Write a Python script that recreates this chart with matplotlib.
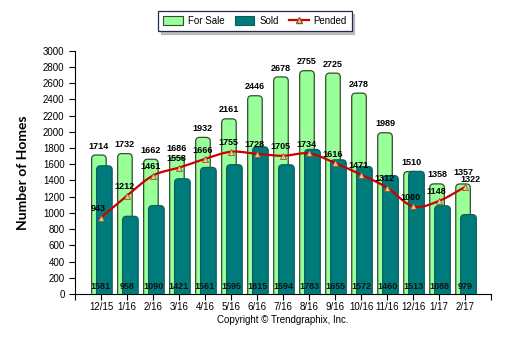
import numpy as np
import matplotlib
matplotlib.use('Agg')
import matplotlib.pyplot as plt
from matplotlib.patches import FancyBboxPatch, Patch
from matplotlib.lines import Line2D

plt.rcParams.update({'font.family': ['Liberation Sans', 'DejaVu Sans'], 'font.size': 7})

months = ['12/15', '1/16', '2/16', '3/16', '4/16', '5/16', '6/16', '7/16',
          '8/16', '9/16', '10/16', '11/16', '12/16', '1/17', '2/17']
for_sale = [1714, 1732, 1662, 1686, 1932, 2161, 2446, 2678, 2755, 2725, 2478, 1989, 1510, 1358, 1357]
sold = [1581, 958, 1090, 1421, 1561, 1595, 1815, 1594, 1783, 1655, 1572, 1460, 1513, 1088, 979]
pended = [943, 1212, 1461, 1558, 1666, 1755, 1728, 1705, 1734, 1616, 1471, 1312, 1080, 1148, 1322]

green = '#99ff99'
teal = '#007b7b'
red = '#cc0000'

fig = plt.figure(figsize=(5.1, 3.39), dpi=100)
ax = fig.add_axes([0.147, 0.133, 0.816, 0.717])
ax.set_xlim(-1, 15)
ax.set_ylim(0, 3000)

x = np.arange(len(months))
# aspect between y-units and x-units in pixels, for rounded tops
px_x = 1 / 26.0
px_y = 3000 / 243.0
asp = px_y / px_x
r = 4 * px_x


def rbar(xc, w, h, fc, ec, z):
    p = FancyBboxPatch((xc - w / 2, -100), w, h + 100,
                       boxstyle='round,pad=0,rounding_size=%f' % r,
                       mutation_aspect=asp, fc=fc, ec=ec, lw=0.9, zorder=z)
    p.set_clip_path(ax.patch)
    ax.add_patch(p)


for i in x:
    rbar(i - 0.08, 0.56, for_sale[i], green, '#2f4f2f', 2)
    rbar(i + 0.13, 0.6, sold[i], teal, '#0a5e5e', 3)
    dy = 140 if i == 14 else 110
    ax.text(i - 0.08, for_sale[i] + dy, str(for_sale[i]), ha='center', va='center',
            fontsize=6.5, fontweight='bold', zorder=6)
    ax.text(i, 86, str(sold[i]), ha='center', va='center', fontsize=6.5,
            fontweight='bold', color='#111111', zorder=6)

# smooth pended curve (Catmull-Rom through the points)
px = np.array(x, float)
py = np.array(pended, float)
xs, ys = [], []
P = np.concatenate([[2 * py[0] - py[1]], py, [2 * py[-1] - py[-2]]])
X = np.concatenate([[px[0] - 1], px, [px[-1] + 1]])
for k in range(1, len(P) - 2):
    t = np.linspace(0, 1, 12)
    for arr, src in ((xs, X), (ys, P)):
        p0, p1, p2, p3 = src[k - 1], src[k], src[k + 1], src[k + 2]
        arr.extend(0.5 * ((2 * p1) + (-p0 + p2) * t + (2 * p0 - 5 * p1 + 4 * p2 - p3) * t ** 2
                          + (-p0 + 3 * p1 - 3 * p2 + p3) * t ** 3))
ax.plot(xs, ys, color=red, lw=1.6, zorder=4)
ax.plot(px, py, ls='none', marker='^', ms=5, mfc='#f2c38f', mec='#8a5a2b', mew=0.6, zorder=5)
for i in x:
    dx, dy = (0.2, 85) if i == 14 else (-0.1, 110)
    ax.text(i + dx, pended[i] + dy, str(pended[i]), ha='center', va='center',
            fontsize=6.5, fontweight='bold', zorder=6)

ax.set_yticks(range(0, 3001, 200))
ax.set_xticks(np.arange(-1, 16))
ax.set_xticklabels([''] + months + [''])
for s in ('top', 'right'):
    ax.spines[s].set_visible(False)
ax.tick_params(length=4, width=0.8, labelsize=7, colors='black')
ax.tick_params(axis='x', pad=2)
ax.set_ylabel('Number of Homes', fontsize=10, fontweight='bold', family=['Lato', 'DejaVu Sans'], labelpad=10)

fig.text(0.555, 0.056, 'Copyright \u00a9 Trendgraphix, Inc.', ha='center', va='center', fontsize=7)

handles = [Patch(fc=green, ec='#2f4f2f', lw=0.8), Patch(fc=teal, ec='#0a5e5e', lw=0.8),
           Line2D([], [], color=red, lw=1.6, marker='^', ms=4, mfc='#f2c38f', mec='#8a5a2b')]
leg = fig.legend(handles, ['For Sale', 'Sold', 'Pended'], loc='center', bbox_to_anchor=(0.5, 0.938),
                 ncol=3, fontsize=7, fancybox=False, shadow={'color': '#999999', 'alpha': 0.6},
                 edgecolor='#1f2d4d', handlelength=2.0, handleheight=1.0, handletextpad=0.5,
                 columnspacing=1.1, borderpad=0.5)
leg.get_frame().set_linewidth(0.9)

fig.savefig('out.png', dpi=100)
